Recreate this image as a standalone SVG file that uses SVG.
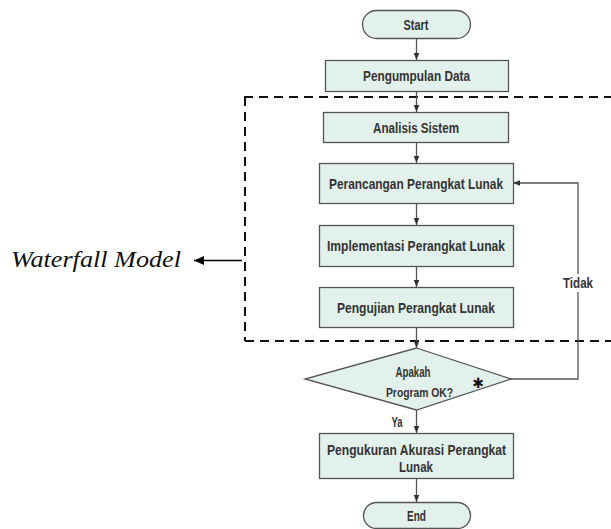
<svg xmlns="http://www.w3.org/2000/svg" width="611" height="529" viewBox="0 0 611 529">
<defs>
<style>
.box{fill:#e3f1ec;stroke:#555;stroke-width:1.3}
.t{font-family:"Liberation Sans",Arial,sans-serif;font-size:14.5px;font-weight:bold;fill:#333;text-anchor:middle}
.c{stroke:#555;stroke-width:1.3;fill:none}
.dash{stroke:#111;stroke-width:2;fill:none;stroke-dasharray:9 6}
</style>
<marker id="ah" viewBox="0 0 10 10" refX="10" refY="5" markerWidth="7" markerHeight="7" markerUnits="userSpaceOnUse" orient="auto">
<path d="M0,1 L10,5 L0,9 z" fill="#333"/>
</marker>
<marker id="bh" viewBox="0 0 10 10" refX="10" refY="5" markerWidth="12" markerHeight="10" markerUnits="userSpaceOnUse" orient="auto">
<path d="M0,0.5 L10,5 L0,9.5 z" fill="#000"/>
</marker>
</defs>
<rect width="611" height="529" fill="#fff"/>

<g id="waterfall-frame">
<path class="dash" d="M244,97 H611 M245,97 V341 M245,341 H611"/>
</g>

<g id="connectors">
<line class="c" x1="416.5" y1="39" x2="416.5" y2="60" marker-end="url(#ah)"/>
<line class="c" x1="416.5" y1="91" x2="416.5" y2="112" marker-end="url(#ah)"/>
<line class="c" x1="416.5" y1="142" x2="416.5" y2="163" marker-end="url(#ah)"/>
<line class="c" x1="416.5" y1="203" x2="416.5" y2="225" marker-end="url(#ah)"/>
<line class="c" x1="416.5" y1="266" x2="416.5" y2="287" marker-end="url(#ah)"/>
<line class="c" x1="416.5" y1="328" x2="416.5" y2="348" marker-end="url(#ah)"/>
<line class="c" x1="416.5" y1="410" x2="416.5" y2="433" marker-end="url(#ah)"/>
<line class="c" x1="416.5" y1="478" x2="416.5" y2="502" marker-end="url(#ah)"/>
<path class="c" d="M511,379 H578 V292 M578,274 V183 H513" marker-end="url(#ah)"/>
<line x1="242" y1="260.5" x2="194" y2="260.5" stroke="#000" stroke-width="1.6" marker-end="url(#bh)"/>
<text x="578" y="288" class="t" textLength="30" lengthAdjust="spacingAndGlyphs">Tidak</text>
<text x="397" y="427" class="t" textLength="11" lengthAdjust="spacingAndGlyphs">Ya</text>
</g>

<g id="start">
<rect class="box" x="362.5" y="10.5" width="108" height="28" rx="14"/>
<text x="416" y="30" class="t" textLength="25" lengthAdjust="spacingAndGlyphs">Start</text>
</g>
<g id="pengumpulan">
<rect class="box" x="325.5" y="60.5" width="183" height="31"/>
<text x="416.5" y="81" class="t" textLength="107" lengthAdjust="spacingAndGlyphs">Pengumpulan Data</text>
</g>
<g id="analisis">
<rect class="box" x="323.5" y="112.5" width="185" height="30"/>
<text x="416" y="132.5" class="t" textLength="86" lengthAdjust="spacingAndGlyphs">Analisis Sistem</text>
</g>
<g id="perancangan">
<rect class="box" x="319.5" y="163.5" width="194" height="40"/>
<text x="416" y="188.5" class="t" textLength="174" lengthAdjust="spacingAndGlyphs">Perancangan Perangkat Lunak</text>
</g>
<g id="implementasi">
<rect class="box" x="319.5" y="225.5" width="194" height="41"/>
<text x="416" y="250.5" class="t" textLength="178" lengthAdjust="spacingAndGlyphs">Implementasi Perangkat Lunak</text>
</g>
<g id="pengujian">
<rect class="box" x="319.5" y="287.5" width="194" height="40"/>
<text x="416" y="312.5" class="t" textLength="158" lengthAdjust="spacingAndGlyphs">Pengujian Perangkat Lunak</text>
</g>
<g id="decision">
<polygon class="box" points="416.5,348 511,379 416.5,410 305,379"/>
<text x="413" y="377" class="t" textLength="35" lengthAdjust="spacingAndGlyphs">Apakah</text>
<text x="419.5" y="397" class="t" style="font-size:13.5px" textLength="67" lengthAdjust="spacingAndGlyphs">Program OK?</text>
<text x="478" y="388" font-family="DejaVu Sans,sans-serif" font-size="14" fill="#111" text-anchor="middle">✱</text>
</g>
<g id="pengukuran">
<rect class="box" x="319.5" y="433.5" width="194" height="45"/>
<text x="416.5" y="455" class="t" textLength="179" lengthAdjust="spacingAndGlyphs">Pengukuran Akurasi Perangkat</text>
<text x="416" y="472" class="t" textLength="34" lengthAdjust="spacingAndGlyphs">Lunak</text>
</g>
<g id="end">
<rect class="box" x="363.5" y="502.5" width="107" height="26" rx="13"/>
<text x="416.5" y="520.5" class="t" textLength="19" lengthAdjust="spacingAndGlyphs">End</text>
</g>
<g id="waterfall-label">
<text x="11" y="267" font-family="Liberation Serif,'Times New Roman',serif" font-style="italic" font-size="23" fill="#111" textLength="170" lengthAdjust="spacingAndGlyphs">Waterfall Model</text>
</g>
</svg>
